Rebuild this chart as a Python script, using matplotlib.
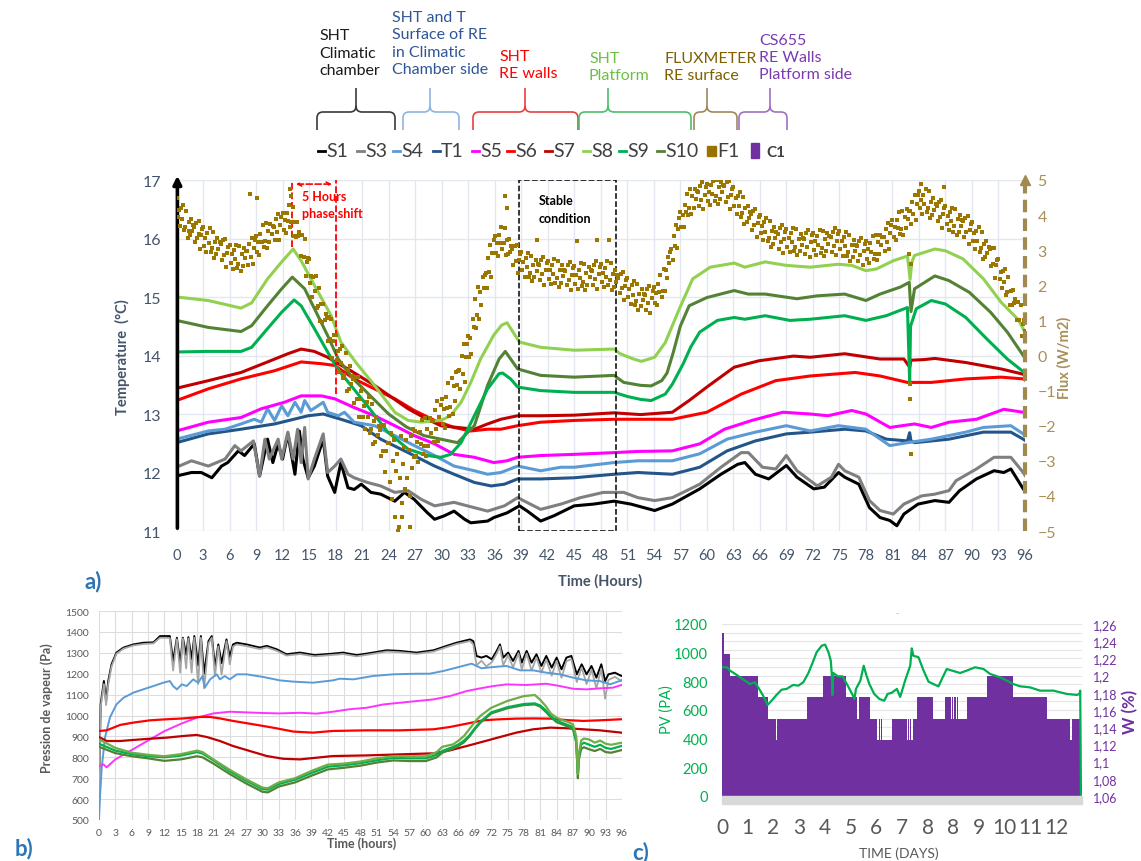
import numpy as np
import matplotlib
matplotlib.use('Agg')
import matplotlib.pyplot as plt
from matplotlib.path import Path
from matplotlib.patches import PathPatch, Rectangle
from matplotlib.lines import Line2D

plt.rcParams['font.family'] = ['Lato', 'DejaVu Sans']

W, H = 1141, 862

# ---------------- panel a : temperatures (deg C) vs hours ----------------
s8_h = [0, 3.6, 7.3, 8.5, 10.3, 11.9, 13.2, 14.1, 15.6, 17.5, 18.6, 20.3, 22.4, 24.7, 26.2, 27.7, 29.9, 31, 32.2, 33.3,
        34.4, 35.9, 36.8, 37.4, 38.8, 41.2, 45, 49.5, 50.2, 51.7, 52.6, 54.1, 55.3, 56.9, 58.4, 60.4, 63.1, 64.3, 66.6,
        69, 71.7, 74.9, 76.4, 78, 79.2, 81.1, 82.7, 83.0, 83.2, 83.5, 85.8, 87, 89, 91.3, 93.3, 95.2, 96]
s8_t = [15.0, 14.94, 14.81, 14.9, 15.31, 15.6, 15.82, 15.62, 15.2, 14.68, 14.23, 13.88, 13.49, 13.03, 12.89, 12.86, 12.89,
        12.97, 13.2, 13.54, 13.94, 14.35, 14.52, 14.56, 14.23, 14.14, 14.09, 14.11, 14.03, 13.94, 13.9, 13.97, 14.22,
        14.8, 15.31, 15.51, 15.58, 15.51, 15.6, 15.54, 15.51, 15.56, 15.54, 15.45, 15.48, 15.62, 15.7, 15.3, 15.6, 15.71,
        15.82, 15.79, 15.65, 15.31, 14.91, 14.62, 14.4]

s10_h = [0, 3.6, 7.3, 8.5, 10.3, 11.9, 13.1, 14.5, 16, 17.1, 18.3, 20, 22, 24, 26, 28, 29.9, 31.8, 33.7, 35.2, 36.5,
         37.2, 38.6, 41.2, 45, 49.5, 50.6, 52.5, 53.7, 54.9, 55.5, 56.2, 57, 58, 60, 63.1, 64.7, 66.6, 70.2, 72.5, 75.6,
         78, 79.6, 81.9, 82.9, 83.1, 83.5, 85.8, 87.4, 89.7, 92.1, 94, 95.8, 96]
s10_t = [14.6, 14.48, 14.41, 14.51, 14.85, 15.14, 15.34, 15.14, 14.68, 14.34, 13.94, 13.6, 13.3, 13.0, 12.78, 12.63,
         12.57, 12.51, 12.8, 13.49, 13.94, 14.07, 13.77, 13.66, 13.63, 13.66, 13.54, 13.49, 13.48, 13.57, 13.7, 14.05,
         14.5, 14.85, 14.99, 15.11, 15.05, 15.05, 14.97, 15.02, 15.05, 14.94, 15.05, 15.17, 15.25, 14.75, 15.14, 15.36,
         15.28, 15.08, 14.74, 14.4, 14.0, 13.95]

s9_h = [0, 3.6, 7.3, 8.5, 10.3, 11.9, 13.3, 14.1, 15.6, 17.1, 17.9, 18.6, 21.6, 23.9, 26.2, 28.4, 29.9, 31, 32.2, 33.7,
        35.2, 36.5, 36.9, 37.8, 38.6, 41.2, 45, 49.5, 51, 52.5, 53.7, 55.3, 56.1, 57.3, 58.2, 59.2, 61.2, 63.1, 64.3,
        66.6, 69.4, 71.7, 75.6, 78, 80.3, 82.7, 82.95, 83.05, 83.7, 85.4, 87, 89.3, 91.7, 94, 96]
s9_t = [14.06, 14.07, 14.07, 14.14, 14.46, 14.74, 14.95, 14.85, 14.46, 14.06, 13.85, 13.7, 13.14, 12.69, 12.4, 12.29,
        12.26, 12.31, 12.51, 12.97, 13.43, 13.69, 13.7, 13.6, 13.46, 13.4, 13.37, 13.37, 13.3, 13.25, 13.23, 13.34,
        13.51, 13.85, 14.15, 14.4, 14.6, 14.65, 14.62, 14.68, 14.6, 14.62, 14.68, 14.6, 14.68, 14.82, 13.55, 14.5, 14.8,
        14.94, 14.88, 14.65, 14.28, 13.94, 13.7]

s7_h = [0, 3.6, 7.3, 10.3, 12.6, 14.1, 15.6, 17.1, 18.3, 19.4, 22.4, 26.2, 28, 29.9, 31.8, 33.7, 35.2, 36.7, 38.6, 41.2,
        45, 49.5, 52.5, 56.1, 58, 60, 63.1, 65.9, 69.8, 71.7, 75.6, 79.6, 82.3, 82.95, 83.1, 84.6, 85.8, 89.3, 93.3,
        95.8, 96]
s7_t = [13.44, 13.57, 13.71, 13.89, 14.03, 14.11, 14.07, 13.97, 13.86, 13.77, 13.49, 13.09, 12.94, 12.8, 12.77, 12.74,
        12.83, 12.91, 12.97, 12.97, 12.98, 13.02, 12.99, 13.03, 13.23, 13.46, 13.8, 13.91, 13.99, 13.97, 14.03, 13.94,
        13.94, 13.8, 13.92, 13.93, 13.95, 13.88, 13.77, 13.68, 13.65]

s6_h = [0, 3.6, 7.3, 11.1, 14.1, 16.4, 17.9, 20.1, 22.4, 24.7, 26.9, 29.2, 31.4, 33.3, 35.2, 36.7, 38.6, 41.2, 45,
        49.5, 52.2, 56.1, 60, 63.9, 67.8, 71.7, 76.8, 79.6, 82.7, 85.4, 89.3, 93.3, 95.8, 96]
s6_t = [13.23, 13.43, 13.6, 13.74, 13.89, 13.86, 13.83, 13.6, 13.43, 13.26, 13.06, 12.89, 12.77, 12.71, 12.74, 12.74,
        12.8, 12.86, 12.89, 12.91, 12.91, 12.91, 13.03, 13.34, 13.57, 13.65, 13.71, 13.65, 13.54, 13.54, 13.6, 13.63,
        13.6, 13.58]

s5_h = [0, 3.6, 7.3, 9.6, 12.2, 14.1, 16.4, 17.9, 20.1, 22.4, 24.7, 26.9, 29.2, 31.4, 33.7, 35.9, 37.4, 38.6, 41.2,
        45, 49.5, 52.2, 56.1, 59.2, 62, 65.1, 68.6, 71.7, 73.7, 76.4, 78, 80.7, 83.5, 85.4, 87.4, 90.5, 93.6, 95.8, 96]
s5_t = [12.71, 12.86, 12.94, 13.09, 13.2, 13.31, 13.31, 13.26, 13.11, 12.97, 12.8, 12.63, 12.49, 12.31, 12.26, 12.17,
        12.2, 12.26, 12.29, 12.31, 12.34, 12.36, 12.37, 12.49, 12.74, 12.89, 13.03, 13.0, 12.97, 13.06, 13.0, 12.77,
        12.83, 12.77, 12.86, 12.91, 13.08, 13.03, 13.02]

s4_h = [0, 3.6, 5.5, 7.3, 8.8, 9.6, 10.3, 11.1, 11.9, 12.6, 13.4, 14.1, 14.5, 15.2, 16.6, 17.1, 18.3, 19, 20.1, 22.4,
        24.7, 26.9, 29.2, 31.4, 33.7, 35.2, 36.7, 38.6, 41.2, 43.5, 45, 49.5, 52.2, 56.1, 59.2, 62.3, 65.5, 69, 71.7,
        74.9, 78, 80.7, 82.7, 85.4, 89.3, 91.3, 94.4, 95.8, 96]
s4_t = [12.57, 12.71, 12.74, 12.83, 12.91, 12.86, 13.09, 12.89, 13.14, 12.97, 13.2, 13.03, 13.23, 13.06, 13.2, 13.03,
        12.97, 13.03, 12.86, 12.8, 12.63, 12.46, 12.29, 12.11, 12.03, 11.97, 12.0, 12.11, 12.03, 12.09, 12.09, 12.17,
        12.2, 12.2, 12.32, 12.57, 12.69, 12.8, 12.71, 12.8, 12.74, 12.46, 12.51, 12.57, 12.69, 12.77, 12.8, 12.66, 12.63]

t1_h = [0, 3.6, 7.3, 11.1, 14.9, 16.6, 18.6, 20.9, 23.1, 26.2, 29.2, 31.4, 33.7, 35.6, 37.1, 38.6, 41.2, 45, 49.5,
        52.2, 56.1, 59.2, 62.3, 65.5, 69, 71.7, 75.6, 78, 80.3, 82.7, 82.95, 83.1, 83.5, 87.4, 91.3, 94.4, 95.8, 96]
t1_t = [12.51, 12.66, 12.74, 12.83, 12.97, 13.0, 12.91, 12.8, 12.57, 12.34, 12.11, 11.97, 11.83, 11.77, 11.8, 11.89,
        11.89, 11.91, 11.97, 12.0, 11.97, 12.09, 12.37, 12.54, 12.66, 12.69, 12.74, 12.71, 12.57, 12.54, 12.68, 12.54,
        12.51, 12.57, 12.69, 12.69, 12.57, 12.55]

s3_h = [0, 1.7, 3.6, 5.5, 6.6, 7.3, 8.7, 9.4, 10, 10.5, 11.5, 11.9, 12.6, 13.2, 13.7, 14.1, 14.5, 14.9, 15.6, 16.6,
        17.1, 17.9, 18.6, 19.4, 20.1, 21.6, 23.1, 24.7, 26.2, 27.7, 29.2, 31.4, 32.9, 35.2, 37.1, 38.6, 41.2, 43.5,
        45.7, 48.3, 50.6, 52.2, 54.1, 56.1, 59.2, 61.6, 63.9, 64.7, 66.3, 67.8, 69, 70.2, 72.5, 74.1, 74.9, 75.6, 77.2,
        78.4, 79.6, 81.1, 82.3, 84.3, 85.8, 87.4, 88.2, 90.5, 92.5, 94.4, 95.8, 96]
s3_t = [12.09, 12.2, 12.11, 12.23, 12.46, 12.37, 12.54, 11.94, 12.57, 12.23, 12.57, 12.23, 12.69, 12.23, 12.74, 12.17,
        12.77, 11.89, 12.23, 12.66, 12.0, 12.11, 12.23, 11.97, 11.91, 11.83, 11.77, 11.66, 11.69, 11.54, 11.43, 11.49,
        11.43, 11.34, 11.43, 11.57, 11.37, 11.46, 11.57, 11.66, 11.66, 11.57, 11.52, 11.57, 11.8, 12.09, 12.34, 12.34,
        12.09, 12.06, 12.29, 12.03, 11.77, 11.92, 12.14, 12.03, 11.92, 11.52, 11.35, 11.29, 11.46, 11.6, 11.63, 11.69,
        11.86, 12.06, 12.26, 12.26, 12.0, 11.95]

s1_h = [0, 1.7, 2.8, 4, 5.1, 5.8, 7, 7.7, 8.8, 9.4, 10.3, 10.9, 11.5, 12, 12.6, 13.4, 13.9, 14.3, 14.9, 15.6, 16.6,
        17.1, 17.9, 18.6, 19.4, 20.1, 20.9, 22, 23.1, 24.7, 25.8, 26.9, 28.4, 29.2, 30.3, 31.4, 32.6, 33.3, 35.2, 35.9,
        37.4, 38.8, 39.7, 41.2, 42.7, 45, 47.2, 49.5, 51.4, 54.1, 56.1, 59.2, 61.6, 63.5, 64.3, 65.5, 67, 69, 70.2,
        72.1, 73.3, 74.9, 75.6, 77.2, 78.4, 79.6, 80.7, 81.5, 82.3, 83.9, 85.8, 87.4, 88.6, 90.5, 92.5, 93.6, 94.4,
        95.8, 96]
s1_t = [11.94, 12.0, 12.0, 11.91, 12.11, 12.17, 12.37, 12.29, 12.49, 11.94, 12.57, 12.17, 12.49, 12.23, 12.66, 11.97,
        12.71, 12.23, 11.91, 12.11, 12.57, 11.94, 11.66, 12.17, 11.74, 11.71, 11.8, 11.66, 11.63, 11.51, 11.66, 11.54,
        11.31, 11.2, 11.26, 11.34, 11.2, 11.14, 11.17, 11.23, 11.31, 11.43, 11.34, 11.17, 11.26, 11.43, 11.46, 11.51,
        11.46, 11.35, 11.46, 11.72, 11.97, 12.14, 12.17, 11.97, 11.89, 12.12, 11.92, 11.72, 11.75, 12.0, 11.92, 11.8,
        11.4, 11.23, 11.18, 11.09, 11.29, 11.46, 11.52, 11.49, 11.69, 11.89, 12.03, 12.0, 12.06, 11.72, 11.68]

# heat flux F1 (W/m2), one reading every 7.5 minutes, one row per hour
flux_vals = [
    4.5, 3.95, 4.15, 3.7, 4.2, 3.9, 4.28, 3.57,
    3.65, 4.12, 3.36, 3.81, 3.43, 3.89, 3.56, 3.73,
    3.67, 3.23, 3.78, 3.36, 3.83, 3.03, 3.42, 3.6,
    3.65, 3.13, 3.36, 2.94, 3.48, 3.21, 3.62, 2.94,
    3.05, 3.53, 2.78, 3.24, 2.88, 3.36, 3.04, 3.22,
    3.17, 2.73, 3.28, 2.86, 3.33, 2.53, 2.92, 3.1,
    3.15, 2.64, 2.88, 2.46, 3.0, 2.74, 3.16, 2.48,
    2.6, 3.11, 2.4, 2.89, 2.55, 3.06, 2.78, 2.99,
    2.97, 2.58, 3.19, 2.82, 3.36, 2.61, 3.06, 3.29,
    3.4, 2.94, 3.23, 2.86, 3.45, 3.24, 3.71, 3.08,
    3.25, 3.77, 3.06, 3.56, 3.23, 3.74, 3.46, 3.68,
    3.67, 3.28, 3.88, 3.51, 4.03, 3.28, 3.72, 3.95,
    4.05, 3.58, 3.85, 3.48, 4.05, 3.83, 4.28, 3.65,
    3.8, 4.22, 3.41, 3.81, 3.38, 3.79, 3.41, 3.53,
    3.44, 2.83, 3.42, 2.82, 3.31, 2.26, 2.65, 2.77,
    2.76, 2.06, 2.26, 1.68, 2.24, 1.84, 2.26, 1.36,
    1.42, 1.93, 0.97, 1.46, 0.95, 1.46, 1.02, 1.17,
    1.06, 0.42, 1.09, 0.48, 1.04, -0.06, 0.41, 0.58,
    0.59, -0.13, 0.13, -0.47, 0.18, -0.21, 0.28, -0.64,
    -0.56, 0.08, -1.01, -0.4, -0.95, -0.31, -0.8, -0.58,
    -0.68, -1.34, -0.6, -1.23, -0.6, -1.75, -1.23, -1.02,
    -0.95, -1.76, -1.43, -2.1, -1.33, -1.76, -1.17, -2.21,
    -2.08, -1.38, -2.53, -1.87, -2.46, -1.75, -2.27, -2.01,
    -2.11, -2.86, -2.0, -2.72, -1.99, -3.32, -2.72, -2.48,
    -2.5, -3.6, -2.2, -4.1, -3.0, -2.4, -4.6, -3.3,
    -2.8, -4.9, -3.5, -2.3, -4.2, -3.1, -2.6, -3.8,
    -2.4, -3.5, -2.7, -4.0, -2.3, -3.2, -2.1, -2.9,
    -2.15, -2.87, -2.46, -3.04, -2.18, -2.52, -1.84, -2.8,
    -2.58, -1.78, -2.85, -2.09, -2.58, -1.78, -2.21, -1.86,
    -1.87, -2.46, -1.54, -2.1, -1.31, -2.43, -1.76, -1.41,
    -1.25, -1.94, -1.51, -2.06, -1.18, -1.5, -0.79, -1.73,
    -1.48, -0.64, -1.66, -0.86, -1.31, -0.46, -0.84, -0.45,
    -0.42, -0.96, -0.01, -0.52, 0.32, -0.76, -0.05, 0.34,
    0.55, -0.04, 0.49, 0.04, 1.03, 0.8, 1.61, 0.77,
    1.14, 1.95, 1.03, 1.81, 1.43, 2.23, 1.92, 2.3,
    2.36, 1.92, 2.79, 2.38, 3.14, 2.24, 2.91, 3.28,
    3.4, 2.93, 3.21, 2.84, 3.43, 3.21, 3.67, 3.04,
    3.2, 3.64, 2.86, 3.28, 2.88, 3.32, 2.96, 3.11,
    3.02, 2.57, 3.12, 2.69, 3.16, 2.34, 2.73, 2.9,
    2.95, 2.43, 2.66, 2.24, 2.78, 2.51, 2.92, 2.24,
    2.35, 2.84, 2.11, 2.59, 2.23, 2.73, 2.42, 2.61,
    2.57, 2.14, 2.72, 2.31, 2.81, 2.02, 2.43, 2.63,
    2.7, 2.19, 2.44, 2.04, 2.58, 2.33, 2.75, 2.07,
    2.2, 2.69, 1.96, 2.43, 2.07, 2.57, 2.26, 2.45,
    2.42, 2.0, 2.57, 2.16, 2.66, 1.87, 2.28, 2.48,
    2.55, 2.05, 2.3, 1.9, 2.45, 2.2, 2.63, 1.97,
    2.1, 2.6, 1.88, 2.36, 2.02, 2.52, 2.24, 2.44,
    2.42, 2.0, 2.58, 2.18, 2.68, 1.9, 2.32, 2.52,
    2.6, 2.1, 2.35, 1.95, 2.5, 2.25, 2.68, 2.02,
    2.15, 2.63, 1.87, 2.33, 1.95, 2.43, 2.1, 2.28,
    2.22, 1.78, 2.33, 1.91, 2.38, 1.58, 1.97, 2.15,
    2.2, 1.68, 1.9, 1.48, 2.0, 1.73, 2.13, 1.45,
    1.55, 2.04, 1.29, 1.76, 1.4, 1.89, 1.57, 1.76,
    1.72, 1.31, 1.89, 1.5, 1.98, 1.22, 1.64, 1.85,
    1.95, 1.49, 1.79, 1.43, 2.03, 1.82, 2.29, 1.68,
    1.85, 2.46, 1.85, 2.44, 2.2, 2.81, 2.63, 2.94,
    3.02, 2.71, 3.41, 3.12, 3.73, 3.06, 3.6, 3.91,
    4.1, 3.67, 3.99, 3.66, 4.28, 4.09, 4.59, 4.0,
    4.2, 4.73, 4.02, 4.53, 4.2, 4.73, 4.45, 4.68,
    4.67, 4.26, 4.84, 4.44, 4.94, 4.16, 4.58, 4.8,
    4.9, 4.41, 4.67, 4.29, 4.85, 4.61, 4.98, 4.41,
    4.55, 5.0, 4.32, 4.8, 4.45, 4.95, 4.65, 4.85,
    4.82, 4.38, 4.93, 4.51, 4.98, 4.18, 4.57, 4.75,
    4.8, 4.26, 4.48, 4.04, 4.55, 4.26, 4.66, 3.96,
    4.05, 4.51, 3.75, 4.19, 3.8, 4.26, 3.93, 4.09,
    4.02, 3.58, 4.13, 3.71, 4.18, 3.38, 3.77, 3.95,
    4.0, 3.48, 3.7, 3.28, 3.8, 3.53, 3.93, 3.25,
    3.35, 3.83, 3.08, 3.54, 3.18, 3.66, 3.34, 3.52,
    3.47, 3.04, 3.62, 3.22, 3.71, 2.93, 3.33, 3.52,
    3.6, 3.09, 3.34, 2.94, 3.48, 3.23, 3.64, 2.97,
    3.1, 3.59, 2.86, 3.33, 2.97, 3.47, 3.16, 3.35,
    3.32, 2.9, 3.48, 3.08, 3.58, 2.8, 3.22, 3.42,
    3.5, 3.0, 3.25, 2.85, 3.4, 3.15, 3.58, 2.92,
    3.05, 3.56, 2.83, 3.32, 2.98, 3.48, 3.19, 3.4,
    3.37, 2.95, 3.53, 3.13, 3.63, 2.85, 3.27, 3.47,
    3.55, 3.03, 3.26, 2.84, 3.38, 3.11, 3.52, 2.84,
    2.95, 3.44, 2.7, 3.16, 2.8, 3.29, 2.97, 3.16,
    3.12, 2.69, 3.27, 2.87, 3.36, 2.58, 2.98, 3.18,
    3.25, 2.76, 3.03, 2.64, 3.2, 2.96, 3.41, 2.76,
    2.9, 3.43, 2.72, 3.23, 2.9, 3.43, 3.15, 3.38,
    3.37, 2.99, 3.61, 3.24, 3.78, 3.04, 3.5, 3.73,
    3.85, 3.38, 3.65, 3.28, 3.85, 3.63, 4.08, 3.45,
    3.6, 4.13, 3.43, 3.94, 3.63, 4.16, 3.89, 4.12,
    4.12, 3.75, 4.38, 4.03, 4.58, 3.85, 4.32, 4.57,
    4.7, 4.2, 4.44, 4.04, 4.58, 4.32, 4.74, 4.08,
    4.2, 4.68, 3.92, 4.38, 4.0, 4.48, 4.15, 4.33,
    4.27, 3.83, 4.38, 3.96, 4.43, 3.63, 4.02, 4.2,
    4.25, 3.74, 3.98, 3.57, 4.1, 3.84, 4.2, 3.53,
    3.7, 4.18, 3.43, 3.89, 3.53, 4.01, 3.69, 3.87,
    3.82, 3.38, 3.93, 3.51, 3.98, 3.18, 3.57, 3.75,
    3.8, 3.26, 3.48, 3.04, 3.55, 3.26, 3.66, 2.96,
    3.05, 3.51, 2.75, 3.19, 2.8, 3.26, 2.93, 3.09,
    3.02, 2.54, 3.07, 2.61, 3.06, 2.22, 2.58, 2.73,
    2.75, 2.19, 2.38, 1.91, 2.4, 2.09, 2.46, 1.73,
    1.8, 2.23, 1.43, 1.84, 1.43, 1.86, 1.49, 1.62,
    1.52, 1.01, 1.51, 1.02, 1.43, 0.56, 0.9, 1.01,
    0.7]
# isolated flux readings away from the main cloud
flux_out_h = [1.4, 2.6, 8.3, 9.1, 12.8, 13.0, 25.1, 25.5, 26.4, 37.2, 37.4, 40.8, 45.3, 47.6, 48.9, 82.9, 83.0, 83.0,
              83.05, 83.1, 84.2, 86.8]
flux_out_v = [3.55, 3.45, 4.6, 4.5, 4.75, 4.55, -5.0, -4.6, -4.9, 4.55, 4.2, 3.3, 3.25, 3.3, 3.3, 2.9, -0.8, -1.25,
              -2.8, 2.6, 4.9, 4.8]

# ---------------- panel b : vapour pressure (Pa) ----------------
b_black_h = [0, 0.3, 0.9, 1.3, 1.7, 2.3, 3.2, 4.5, 6.3, 8.1, 10, 11.2, 12.4, 13, 13.6, 14.3, 14.9, 15.4, 16, 16.4, 17,
             17.5, 18.2, 18.7, 19.3, 20.1, 20.7, 21.3, 21.9, 22.5, 23.4, 24, 24.6, 25.3, 27.1, 29.5, 30.8, 32.6, 34.4,
             36.9, 39.6, 42.9, 44.8, 47.3, 49.1, 52.8, 55.2, 58.3, 61.4, 63.8, 65.6, 68.1, 68.7, 69.3, 70.2, 71.1, 72.1,
             73, 73.6, 74.2, 75.1, 76, 77, 77.6, 78.5, 79.4, 80.3, 81.2, 82.1, 83.1, 84, 84.9, 85.8, 86.7, 87.7, 88.6,
             89.5, 90.4, 91.3, 92.2, 92.9, 93.5, 94.7, 95.9, 96]
b_black = [640, 1053, 1165, 1069, 1165, 1245, 1301, 1325, 1340, 1348, 1350, 1380, 1380, 1380, 1260, 1372, 1250, 1372,
           1290, 1375, 1270, 1380, 1240, 1380, 1200, 1356, 1380, 1230, 1340, 1250, 1364, 1280, 1340, 1348, 1340, 1325,
           1333, 1317, 1293, 1301, 1289, 1296, 1301, 1289, 1296, 1312, 1309, 1301, 1312, 1333, 1348, 1364, 1356, 1285,
           1277, 1285, 1269, 1309, 1340, 1277, 1301, 1261, 1309, 1253, 1309, 1253, 1293, 1237, 1285, 1229, 1277, 1221,
           1277, 1285, 1197, 1245, 1197, 1237, 1181, 1245, 1165, 1197, 1205, 1189, 1190]
b_gray = [600, 1040, 1150, 1050, 1150, 1235, 1295, 1320, 1335, 1342, 1345, 1372, 1372, 1370, 1215, 1365, 1205, 1368,
          1225, 1368, 1205, 1372, 1150, 1372, 1130, 1345, 1372, 1190, 1330, 1195, 1355, 1245, 1330, 1340, 1332, 1318,
          1326, 1310, 1287, 1294, 1283, 1290, 1294, 1283, 1290, 1306, 1303, 1295, 1306, 1327, 1342, 1356, 1340, 1240,
          1262, 1235, 1255, 1296, 1330, 1240, 1290, 1230, 1298, 1220, 1296, 1215, 1278, 1205, 1268, 1190, 1262, 1180,
          1260, 1270, 1160, 1230, 1150, 1220, 1130, 1225, 1080, 1170, 1185, 1165, 1170]

b_blue_h = [0, 0.2, 0.5, 1.1, 2, 3.2, 4.5, 6.3, 8.1, 10, 11.8, 13, 13.6, 14.3, 15.2, 16.1, 17.3, 18.2, 19, 19.4, 20.4,
            21.6, 22.2, 23.1, 24, 25.3, 27.1, 30.2, 33.2, 35.7, 39.3, 42.9, 44.2, 46.7, 50.3, 54, 58.3, 60.7, 63.2,
            65.6, 68.4, 70.2, 72.4, 74.8, 77.3, 79.7, 82.1, 84.6, 87, 89.5, 91.9, 93.8, 95.9, 96]
b_blue = [503, 620, 750, 894, 990, 1053, 1085, 1109, 1125, 1141, 1157, 1165, 1141, 1125, 1149, 1141, 1173, 1157, 1189,
          1133, 1173, 1197, 1173, 1189, 1173, 1197, 1197, 1184, 1168, 1162, 1157, 1168, 1176, 1173, 1189, 1197, 1200,
          1200, 1213, 1229, 1248, 1226, 1232, 1237, 1216, 1216, 1205, 1197, 1181, 1168, 1165, 1149, 1168, 1170]

b_mag_h = [0, 0.8, 1.4, 3, 6, 9, 12, 15, 18, 21, 24, 27, 30, 33, 36.9, 39.9, 42.9, 46, 49.1, 52.2, 55.2, 58.3, 61.4,
           64.4, 67.5, 70, 72.4, 74.8, 78.5, 82.1, 84.6, 87, 89.5, 91.9, 94.3, 95.9, 96]
b_mag = [758, 766, 752, 790, 835, 880, 925, 960, 990, 1010, 1018, 1015, 1012, 1010, 1013, 1009, 1018, 1030, 1037, 1053,
         1061, 1069, 1077, 1093, 1117, 1130, 1141, 1149, 1146, 1152, 1141, 1128, 1125, 1130, 1133, 1146, 1147]

b_red_h = [0, 1.4, 3.9, 6.3, 9.4, 12.4, 15.5, 18.5, 20.4, 22.2, 24.6, 28.3, 31.9, 35.7, 39.3, 42.9, 49.1, 55.2, 61.4,
           64.4, 67.5, 70.5, 73.6, 76.6, 79.7, 82.8, 85.8, 88.9, 91.9, 95.9, 96]
b_red = [926, 929, 955, 966, 977, 982, 986, 993, 993, 986, 974, 958, 942, 923, 918, 926, 929, 929, 934, 945, 961, 977,
         982, 985, 986, 985, 978, 974, 977, 982, 982]

b_dred_h = [0, 1.4, 3.9, 6.3, 9.4, 12.4, 15.5, 17.9, 19.8, 22.2, 24.6, 27.7, 30.8, 33.8, 36.9, 39.9, 42.9, 49.1, 55.2,
            61.4, 64.4, 67.5, 70.5, 73.6, 76.6, 79.7, 82.8, 85.8, 88.9, 91.9, 95.9, 96]
b_dred = [897, 878, 878, 883, 889, 894, 902, 907, 897, 878, 854, 830, 806, 793, 790, 798, 806, 809, 814, 819, 833, 854,
          875, 897, 918, 934, 942, 939, 934, 929, 918, 917]

b_green_h = [0, 3, 6, 9, 12, 15, 18, 19, 21, 24, 27, 30, 31, 33, 36, 39, 42, 45, 48, 51, 54, 57, 60, 62, 63, 65, 66,
             67, 68, 69, 70, 72, 75, 78, 80, 81, 82, 83, 84, 85, 86, 87, 87.6, 87.9, 88.1, 88.5, 89, 90, 91, 92, 93,
             94, 96]
b_g1 = [886, 845, 822, 812, 805, 815, 832, 825, 790, 740, 695, 655, 652, 680, 700, 735, 765, 770, 780, 795, 805, 805,
        805, 825, 850, 862, 880, 902, 935, 970, 998, 1037, 1070, 1093, 1098, 1075, 1045, 1008, 990, 978, 970, 958, 900,
        720, 820, 880, 890, 885, 870, 880, 865, 860, 870]
b_g2 = [865, 832, 815, 805, 800, 808, 825, 818, 785, 733, 688, 648, 645, 672, 693, 725, 755, 762, 772, 786, 797, 795,
        795, 812, 830, 850, 862, 880, 905, 940, 970, 1015, 1040, 1055, 1058, 1048, 1025, 995, 975, 965, 955, 945, 880,
        720, 810, 860, 870, 860, 850, 860, 845, 840, 855]
b_g3 = [850, 820, 805, 795, 783, 790, 805, 800, 770, 720, 675, 635, 632, 660, 680, 712, 742, 750, 760, 775, 785, 782,
        782, 800, 822, 842, 855, 872, 900, 935, 965, 1010, 1035, 1050, 1053, 1042, 1018, 990, 968, 958, 948, 935, 870,
        700, 790, 840, 848, 838, 830, 840, 825, 822, 835]

# ---------------- panel c : PV (Pa) and water content W (%) vs days ----------------
pv_days = [0, 0.2, 0.31, 0.57, 0.89, 1.09, 1.28, 1.41, 1.6, 1.77, 1.93, 2.12, 2.32, 2.51, 2.77, 2.97, 3.16, 3.36, 3.53,
           3.68, 3.88, 4.01, 4.14, 4.23, 4.27, 4.29, 4.33, 4.5, 4.69, 4.89, 5.06, 5.15, 5.21, 5.38, 5.51, 5.6, 5.73,
           5.92, 6.12, 6.31, 6.44, 6.6, 6.8, 6.93, 7.12, 7.32, 7.38, 7.44, 7.64, 7.84, 8.03, 8.22, 8.42, 8.55, 8.74,
           8.94, 9.26, 9.52, 9.84, 10.17, 10.43, 10.82, 11.33, 11.6, 11.98, 12.37, 12.89, 13.41, 13.8, 13.9, 13.93,
           13.96]
pv_vals = [898, 898, 875, 845, 805, 781, 793, 758, 700, 635, 665, 705, 742, 747, 775, 770, 793, 858, 933, 1003, 1049,
           1056, 1003, 944, 850, 705, 858, 835, 835, 770, 712, 677, 747, 805, 909, 851, 781, 712, 677, 665, 712, 720,
           747, 691, 805, 909, 1030, 979, 968, 875, 798, 781, 765, 816, 886, 875, 858, 875, 898, 886, 851, 828, 781,
           765, 758, 735, 735, 712, 705, 712, 735, 0]

w_days = [0, 0.06, 0.31, 1.39, 1.8, 2.09, 2.14, 3.32, 3.92, 4.82, 5.24, 5.34, 5.76, 6.02, 6.1, 6.13, 6.2, 6.23, 6.6,
          7.19, 7.23, 7.26, 7.33, 7.36, 7.44, 7.6, 8.22, 8.68, 8.92, 8.96, 9.0, 9.04, 9.1, 9.14, 9.18, 9.52, 10.3, 11.33,
          12.63, 13.55, 13.6, 13.96, 14]
w_vals = [1.25, 1.225, 1.2, 1.175, 1.15, 1.125, 1.15, 1.175, 1.2, 1.175, 1.15, 1.175, 1.15, 1.125, 1.15, 1.125, 1.15,
          1.125, 1.15, 1.125, 1.15, 1.125, 1.15, 1.125, 1.15, 1.175, 1.15, 1.175, 1.15, 1.175, 1.15, 1.175, 1.15, 1.175,
          1.15, 1.175, 1.2, 1.175, 1.15, 1.125, 1.15, 1.06, 1.06]

c_xlabels = ['0', '1', '2', '3', '4', '5', '6', '7', '8', '8', '9', '10', '11', '12']
c_wticks = [1.06, 1.08, 1.10, 1.12, 1.14, 1.16, 1.18, 1.20, 1.22, 1.24, 1.26]
c_wlabels = ['1,06', '1,08', '1,1', '1,12', '1,14', '1,16', '1,18', '1,2', '1,22', '1,24', '1,26']


def fx(x):
    return x / W


def fy(y):
    return 1 - y / H


def box(x0, y0, x1, y1):
    return [fx(x0), fy(y1), (x1 - x0) / W, (y1 - y0) / H]


fig = plt.figure(figsize=(W / 100, H / 100), dpi=100)

# ---------------- header: sensor groups, braces and legend ----------------
groups = [
    (319, 53.5, 'SHT\nClimatic\nchamber', '#1a1a1a'),
    (392, 44, 'SHT and T\nSurface of RE\nin Climatic\nChamber side', '#2F5597'),
    (499, 65.5, 'SHT\nRE walls', '#FF0000'),
    (589, 67.5, 'SHT\nPlatform', '#6CBE45'),
    (664, 67.5, 'FLUXMETER\nRE surface', '#7F6000'),
    (759, 58, 'CS655\nRE Walls\nPlatform side', '#7B3BAF'),
]
for gx, gy, txt, col in groups:
    fig.text(fx(gx), fy(gy), txt, color=col, fontsize=11.5, ha='left', va='center', linespacing=1.3)


def brace(x0, x1, xt, color):
    yb, yh, yt, r = 131, 113, 89, 6
    pts = [(x0, yb), (x0, yh + r), (x0, yh), (x0 + r, yh), (xt - r, yh), (xt, yh), (xt, yh - r), (xt, yt),
           (xt, yh - r), (xt, yh), (xt + r, yh), (x1 - r, yh), (x1, yh), (x1, yh + r), (x1, yb)]
    codes = [Path.MOVETO, Path.LINETO, Path.CURVE3, Path.CURVE3, Path.LINETO, Path.CURVE3, Path.CURVE3, Path.LINETO,
             Path.MOVETO, Path.CURVE3, Path.CURVE3, Path.LINETO, Path.CURVE3, Path.CURVE3, Path.LINETO]
    verts = [(fx(px), fy(py)) for px, py in pts]
    fig.patches.append(PathPatch(Path(verts, codes), fill=False, ec=color, lw=1.2, transform=fig.transFigure))


brace(317, 395, 356, '#3a3a3a')
brace(403, 459, 430, '#8DB4E2')
brace(473, 578, 525, '#E84040')
brace(579, 691, 608, '#4CBF6A')
brace(694, 737, 707, '#A0875A')
brace(739, 787, 770, '#A070C0')

legend_items = [('S1', '#000000', 318), ('S3', '#7F7F7F', 357), ('S4', '#5B9BD5', 393), ('T1', '#23558A', 433),
                ('S5', '#FF00FF', 472), ('S6', '#FF0000', 507), ('S7', '#C00000', 545), ('S8', '#92D050', 583),
                ('S9', '#00B050', 619), ('S10', '#548235', 657)]
ly = 152
for name, col, lx in legend_items:
    fig.lines.append(Line2D([fx(lx), fx(lx + 7)], [fy(ly), fy(ly)], color=col, lw=2, transform=fig.transFigure))
    fig.text(fx(lx + 8), fy(ly), name, color='#404040', fontsize=14, ha='left', va='center')
fig.patches.append(Rectangle((fx(707), fy(157)), 9 / W, 10 / H, color='#997300', transform=fig.transFigure))
fig.text(fx(717), fy(ly), 'F1', color='#404040', fontsize=14, ha='left', va='center')
fig.patches.append(Rectangle((fx(751), fy(159)), 8 / W, 15 / H, color='#7030A0', transform=fig.transFigure))
fig.text(fx(766), fy(ly + 1), 'C1', color='#404040', fontsize=11, fontweight='bold', ha='left', va='center')

# ---------------- panel a ----------------
tick_col = '#44546A'
ax_a = fig.add_axes(box(176.5, 181, 1025, 532))
ax_a.set_xlim(0, 96)
ax_a.set_ylim(11, 17)
ax_a.set_xticks(np.arange(0, 97, 3))
ax_a.set_yticks(np.arange(11, 18, 1))
ax_a.grid(True, color='#E3E8F0', lw=1)
ax_a.set_axisbelow(True)
for sp in ax_a.spines.values():
    sp.set_visible(False)
ax_a.tick_params(length=0, labelsize=10.5, colors=tick_col)
ax_a.tick_params(axis='y', pad=11, labelsize=11.5)
ax_a.tick_params(axis='x', pad=12)

temp_series = [(s1_h, s1_t, '#000000'), (s3_h, s3_t, '#7F7F7F'), (t1_h, t1_t, '#23558A'),
               (s4_h, s4_t, '#5B9BD5'), (s5_h, s5_t, '#FF00FF'), (s6_h, s6_t, '#FF0000'),
               (s7_h, s7_t, '#C00000'), (s10_h, s10_t, '#548235'), (s9_h, s9_t, '#00B050'),
               (s8_h, s8_t, '#92D050')]
for hh, tt, col in temp_series:
    ax_a.plot(hh, tt, color=col, lw=2.2, solid_joinstyle='round')

# phase shift marker
ax_a.plot([13.1, 13.1], [15.85, 17], ls='--', color='red', lw=1.3)
ax_a.plot([18.0, 18.0], [13.35, 17], ls='--', color='red', lw=1.3)
ax_a.annotate('', xy=(13.2, 16.93), xytext=(17.9, 16.93),
              arrowprops=dict(arrowstyle='<->', ls='--', color='red', lw=1.2, mutation_scale=7))
ax_a.text(14.2, 16.73, '5 Hours', color='red', fontsize=9, fontweight='bold', va='center')
ax_a.text(14.2, 16.43, 'phase shift', color='red', fontsize=9, fontweight='bold', va='center')

# stable period
ax_a.add_patch(Rectangle((38.7, 11), 11.0, 6, fill=False, ls='--', lw=1.1, ec='black', zorder=5))
ax_a.text(41.0, 16.65, 'Stable', color='black', fontsize=9, fontweight='bold', va='center')
ax_a.text(41.0, 16.35, 'condition', color='black', fontsize=9, fontweight='bold', va='center')

# temperature axis arrow
ax_a.annotate('', xy=(0.1, 17.12), xytext=(0.1, 11), annotation_clip=False,
              arrowprops=dict(arrowstyle='-|>', color='black', lw=2.6, mutation_scale=12))

ax_f = ax_a.twinx()
ax_f.set_ylim(-5, 5)
ax_f.set_yticks(np.arange(-5, 6, 1))
for sp in ax_f.spines.values():
    sp.set_visible(False)
flux_col = '#A89058'
ax_f.tick_params(length=0, labelsize=11.5, colors=flux_col, pad=9)
flux_h = np.arange(len(flux_vals)) * 0.125
ax_f.scatter(flux_h, flux_vals, marker='s', s=7.5, color='#9C7700', linewidths=0)
ax_f.scatter(flux_out_h, flux_out_v, marker='s', s=7.5, color='#9C7700', linewidths=0)
ax_f.plot([96, 96], [-5, 4.85], ls=(0, (3, 1.5)), color='#A08A50', lw=3, clip_on=False)
ax_f.plot([96], [5.0], marker='^', ms=7, color='#A08A50', clip_on=False)

fig.text(fx(122), fy(357), 'Temperature  (°C)', rotation=90, color=tick_col, fontsize=10.5, fontweight='bold',
         ha='center', va='center')
fig.text(fx(1064), fy(358), 'Flux (W/m2)', rotation=90, color=flux_col, fontsize=10.5, fontweight='bold',
         ha='center', va='center')
fig.text(fx(600), fy(581), 'Time (Hours)', color=tick_col, fontsize=10.5, fontweight='bold', ha='center',
         va='center')
fig.text(fx(93), fy(582), 'a)', color='#2E75B6', fontsize=16, fontweight='bold', ha='center', va='center')

# ---------------- panel b ----------------
gcol = '#595959'
ax_b = fig.add_axes(box(99, 612, 622, 821))
ax_b.set_xlim(0, 96)
ax_b.set_ylim(500, 1500)
ax_b.set_xticks(np.arange(0, 97, 3))
ax_b.set_yticks(np.arange(500, 1501, 100))
ax_b.grid(True, color='#DDDDDD', lw=0.8)
ax_b.set_axisbelow(True)
for sp in ax_b.spines.values():
    sp.set_visible(False)
ax_b.tick_params(length=0, labelsize=7.5, colors=gcol)
ax_b.tick_params(axis='y', pad=7)
ax_b.tick_params(axis='x', pad=6)

ax_b.plot(b_black_h, b_black, color='#000000', lw=1.4)
ax_b.plot(b_black_h, b_gray, color='#A6A6A6', lw=1.3)
ax_b.plot(b_blue_h, b_blue, color='#5B9BD5', lw=1.4)
ax_b.plot(b_mag_h, b_mag, color='#FF33FF', lw=1.4)
ax_b.plot(b_red_h, b_red, color='#FF0000', lw=1.6)
ax_b.plot(b_dred_h, b_dred, color='#C00000', lw=1.6)
ax_b.plot(b_green_h, b_g3, color='#548235', lw=1.6)
ax_b.plot(b_green_h, b_g2, color='#00B050', lw=1.6)
ax_b.plot(b_green_h, b_g1, color='#70AD47', lw=1.6)

fig.text(fx(47), fy(708), 'Pression de vapeur (Pa)', rotation=90, color=gcol, fontsize=9, fontweight='bold',
         ha='center', va='center')
fig.text(fx(362), fy(844), 'Time (hours)', color=gcol, fontsize=9, fontweight='bold', ha='center', va='center')
fig.text(fx(24), fy(849), 'b)', color='#2E75B6', fontsize=16, fontweight='bold', ha='center', va='center')

# ---------------- panel c ----------------
ax_w = fig.add_axes(box(722, 625, 1082, 797))
ax_pv = ax_w.twinx()
ax_w.set_xlim(0, 14)
ax_w.set_ylim(1.06, 1.26)
ax_w.set_yticks(c_wticks)
ax_w.set_yticklabels(c_wlabels)
ax_w.set_yticks(np.arange(1.07, 1.26, 0.02), minor=True)
ax_w.grid(True, which='both', axis='y', color='#E6E6E6', lw=0.8)
ax_w.set_axisbelow(True)
ax_w.fill_between(w_days, w_vals, 1.06, step='post', color='#7030A0', lw=0)
ax_w.yaxis.tick_right()
ax_w.tick_params(axis='y', which='both', length=0, labelsize=9, colors='#7030A0', pad=8)
ax_w.set_xticks(range(len(c_xlabels)))
ax_w.set_xticklabels(c_xlabels)
ax_w.tick_params(axis='x', length=0, labelsize=15, colors='#595959', pad=15)
for sp in ax_w.spines.values():
    sp.set_visible(False)

ax_pv.set_ylim(0, 1200)
ax_pv.set_yticks(np.arange(0, 1201, 200))
ax_pv.plot(pv_days, pv_vals, color='#00B050', lw=1.6)
ax_pv.yaxis.tick_left()
ax_pv.tick_params(axis='y', length=0, labelsize=10.5, colors='#00B050', pad=10)
for sp in ax_pv.spines.values():
    sp.set_visible(False)

fig.patches.append(Rectangle((fx(722), fy(805)), 360 / W, 8 / H, color='#D9D9D9', transform=fig.transFigure))
fig.text(fx(667), fy(710), 'PV (PA)', rotation=90, color='#00B050', fontsize=10.5, ha='center', va='center')
fig.text(fx(1130), fy(712), 'W (%)', rotation=90, color='#7030A0', fontsize=12, fontweight='bold', ha='center',
         va='center')
fig.text(fx(899), fy(854), 'TIME (DAYS)', color='#595959', fontsize=10, ha='center', va='center')
fig.text(fx(897), fy(614), '-', color='#999999', fontsize=6, ha='center', va='center')
fig.text(fx(641), fy(853), 'c)', color='#2E75B6', fontsize=16, fontweight='bold', ha='center', va='center')

fig.savefig('out.png', dpi=100)
